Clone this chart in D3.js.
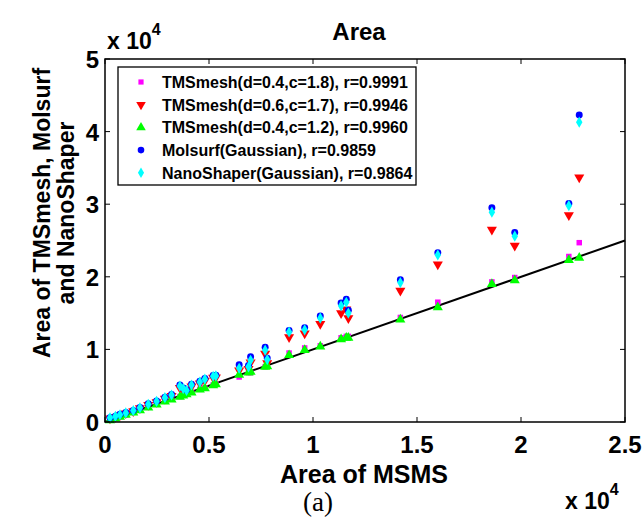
<!DOCTYPE html>
<html><head><meta charset="utf-8">
<script src="https://cdn.jsdelivr.net/npm/d3@7"></script>
<style>body{margin:0;background:#fff}svg{display:block}</style>
</head><body>
<svg id="c" width="643" height="525"></svg>
<script>
// MSMS area (x) and areas from each method (y), raw units
const msms    = [240,500,720,1000,1360,1680,2080,2480,2880,3200,3600,3760,3920,4160,4560,4800,5200,5330,6450,6900,7000,7700,7800,8850,9600,10350,11350,11600,11700,14200,16000,18600,19700,22300,22800];
const tmsA    = [250,500,730,1000,1350,1650,2050,2450,2850,3150,3500,3700,3850,4100,4500,4700,5100,5250,6200,6800,6800,7600,7700,9500,10200,10500,11600,11800,11800,14400,16500,19300,19900,22800,24700];
const tmsB    = [500,700,950,1200,1500,1900,2350,2750,3200,3600,4700,4400,4200,4900,5300,5700,6100,6150,7100,7300,8200,9400,8100,11700,12200,13500,15000,15500,14300,18100,21700,26500,24300,28500,33700];
const tmsC    = [230,480,700,970,1300,1620,2000,2400,2800,3100,3450,3650,3800,4050,4450,4650,5050,5200,6500,6800,6900,7600,7650,9200,9900,10400,11400,11600,11600,14100,15800,19000,19500,22300,22600];
const molsurf = [600,800,1060,1300,1600,2000,2500,2900,3400,3800,5100,4700,4400,5200,5600,6000,6400,6450,7900,7800,9000,10300,8800,12600,13000,14600,16400,16900,15400,19600,23300,29500,26100,30100,42300];
const nano    = [580,780,1000,1250,1570,1950,2450,2850,3350,3720,4950,4600,4350,5100,5500,5900,6300,6350,7400,7600,8500,9900,8600,12400,12700,14300,16000,16500,15000,19200,23000,28900,25600,29800,41300];
const seriesNames = ["TMSmesh(d=0.4,c=1.8), r=0.9991","TMSmesh(d=0.6,c=1.7), r=0.9946","TMSmesh(d=0.4,c=1.2), r=0.9960","Molsurf(Gaussian), r=0.9859","NanoShaper(Gaussian), r=0.9864"];
const seriesColors = ["#ff00ff","#ff0000","#00ff00","#0000ff","#00ffff"];
const xTicks = [0,5000,10000,15000,20000,25000];
const xTickLabels = ["0","0.5","1","1.5","2","2.5"];
const yTicks = [0,10000,20000,30000,40000,50000];
const yTickLabels = ["0","1","2","3","4","5"];
const fitLine = [[0,0],[25000,25000]];

const svg = d3.select("#c");
const L=105,R=625,T=59,B=422;
const x = d3.scaleLinear().domain([0,25000]).range([L,R]);
const y = d3.scaleLinear().domain([0,50000]).range([B,T]);
const font = "'Liberation Sans', Arial, Helvetica, sans-serif";

const ys = [tmsA,tmsB,tmsC,molsurf,nano];
const shapes = [d3.symbolSquare, d3.symbolTriangle, d3.symbolTriangle, d3.symbolCircle, d3.symbolDiamond];
const sizes = [30,44,44,38,36];
const rots = [0,180,0,0,0];

// fit line
svg.append("line").attr("x1",x(fitLine[0][0])).attr("y1",y(fitLine[0][1]))
  .attr("x2",x(fitLine[1][0])).attr("y2",y(fitLine[1][1]))
  .attr("stroke","#000").attr("stroke-width",2);

// points
ys.forEach((arr,k)=>{
  const sym = d3.symbol().type(shapes[k]).size(sizes[k]);
  svg.append("g").selectAll("path").data(arr).join("path")
    .attr("d",sym)
    .attr("transform",(d,i)=>`translate(${x(msms[i])},${y(d)}) rotate(${rots[k]})`)
    .attr("fill",seriesColors[k]);
});

// axes frame
svg.append("rect").attr("x",L).attr("y",T).attr("width",R-L).attr("height",B-T)
  .attr("fill","none").attr("stroke","#000").attr("stroke-width",1.5);

// ticks inward
const tl=5;
xTicks.forEach((t,i)=>{
  svg.append("line").attr("x1",x(t)).attr("x2",x(t)).attr("y1",B).attr("y2",B-tl).attr("stroke","#000");
  svg.append("line").attr("x1",x(t)).attr("x2",x(t)).attr("y1",T).attr("y2",T+tl).attr("stroke","#000");
  svg.append("text").attr("x",x(t)).attr("y",B+31).attr("text-anchor","middle")
    .attr("font-family",font).attr("font-weight","bold").attr("font-size",24).text(xTickLabels[i]);
});
yTicks.forEach((t,i)=>{
  svg.append("line").attr("x1",L).attr("x2",L+tl).attr("y1",y(t)).attr("y2",y(t)).attr("stroke","#000");
  svg.append("line").attr("x1",R).attr("x2",R-tl).attr("y1",y(t)).attr("y2",y(t)).attr("stroke","#000");
  svg.append("text").attr("x",L-6).attr("y",y(t)+9).attr("text-anchor","end")
    .attr("font-family",font).attr("font-weight","bold").attr("font-size",24).text(yTickLabels[i]);
});

// exponent labels
function expLabel(px,py){
  const t = svg.append("text").attr("x",px).attr("y",py).attr("font-family",font).attr("font-weight","bold").attr("font-size",23);
  t.append("tspan").text("x 10");
  t.append("tspan").attr("dy",-14).attr("font-size",16).text("4");
}
expLabel(107,49);
expLabel(565,509);

// title & labels
svg.append("text").attr("x",359).attr("y",40).attr("text-anchor","middle")
  .attr("font-family",font).attr("font-weight","bold").attr("font-size",24).text("Area");
svg.append("text").attr("x",364).attr("y",483).attr("text-anchor","middle")
  .attr("font-family",font).attr("font-weight","bold").attr("font-size",25).text("Area of MSMS");
const yl = svg.append("g").attr("transform","translate(0,213) rotate(-90)");
yl.append("text").attr("x",0).attr("y",50).attr("text-anchor","middle")
  .attr("font-family",font).attr("font-weight","bold").attr("font-size",23).text("Area of TMSmesh, Molsurf");
yl.append("text").attr("x",0).attr("y",74).attr("text-anchor","middle")
  .attr("font-family",font).attr("font-weight","bold").attr("font-size",23).text("and NanoShaper");
svg.append("text").attr("x",318).attr("y",511).attr("text-anchor","middle")
  .attr("font-family","'Liberation Serif','DejaVu Serif',serif").attr("font-size",27).text("(a)");

// legend
const lg = svg.append("g");
lg.append("rect").attr("x",118).attr("y",67).attr("width",298).attr("height",118)
  .attr("fill","#fff").attr("stroke","#000").attr("stroke-width",1.3);
seriesNames.forEach((n,k)=>{
  const yy = 82 + k*22.7;
  lg.append("path").attr("d",d3.symbol().type(shapes[k]).size(sizes[k]*0.9)())
    .attr("transform",`translate(141,${yy}) rotate(${rots[k]})`).attr("fill",seriesColors[k]);
  lg.append("text").attr("x",162).attr("y",yy+6).attr("font-family",font).attr("font-weight","bold")
    .attr("font-size",16).text(n);
});
</script>
</body></html>
